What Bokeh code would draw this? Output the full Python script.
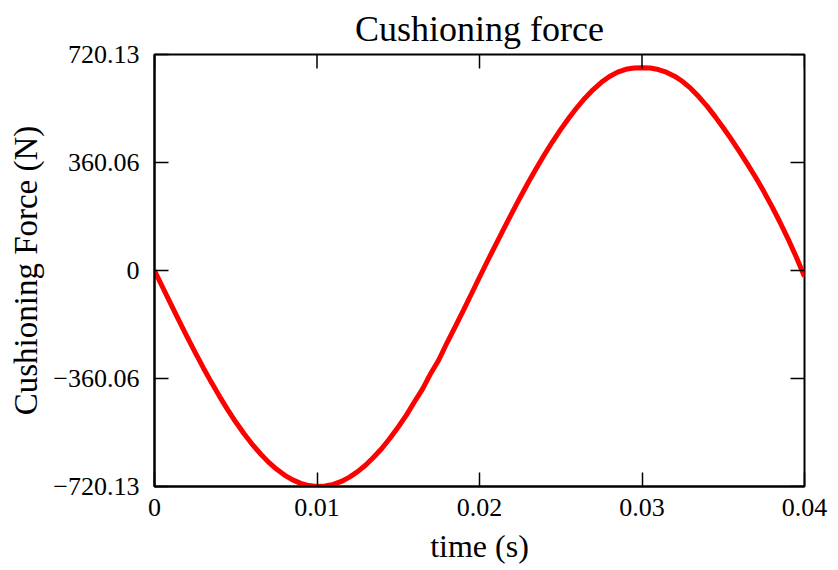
from bokeh.plotting import figure
from bokeh.models import Range1d, FixedTicker, ColumnDataSource
from bokeh.embed import file_html
from bokeh.resources import INLINE

# Cushioning force over one cycle, sampled every half millisecond
time_s = [0.0000, 0.0005, 0.0010, 0.0015, 0.0020, 0.0025, 0.0030, 0.0035, 0.0040, 0.0045,
          0.0050, 0.0055, 0.0060, 0.0065, 0.0070, 0.0075, 0.0080, 0.0085, 0.0090, 0.0095,
          0.0100, 0.0105, 0.0110, 0.0115, 0.0120, 0.0125, 0.0130, 0.0135, 0.0140, 0.0145,
          0.0150, 0.0155, 0.0160, 0.0165, 0.0170, 0.0175, 0.0180, 0.0185, 0.0190, 0.0195,
          0.0200, 0.0205, 0.0210, 0.0215, 0.0220, 0.0225, 0.0230, 0.0235, 0.0240, 0.0245,
          0.0250, 0.0255, 0.0260, 0.0265, 0.0270, 0.0275, 0.0280, 0.0285, 0.0290, 0.0295,
          0.0300, 0.0305, 0.0310, 0.0315, 0.0320, 0.0325, 0.0330, 0.0335, 0.0340, 0.0345,
          0.0350, 0.0355, 0.0360, 0.0365, 0.0370, 0.0375, 0.0380, 0.0385, 0.0390, 0.0395,
          0.0400]
force_n = [0.0, -55.9, -111.5, -166.5, -220.4, -273.0, -324.0, -372.9, -419.5, -463.9,
           -505.3, -543.4, -578.6, -610.0, -638.0, -661.9, -682.2, -698.0, -709.7, -717.1,
           -720.13, -718.7, -713.1, -703.2, -688.9, -670.5, -648.4, -621.7, -592.4, -558.5,
           -521.7, -482.1, -437.6, -394.4, -343.2, -297.7, -241.0, -188.2, -133.5, -78.3,
           -22.5, 32.5, 86.4, 139.8, 192.3, 243.6, 293.3, 341.1, 386.7, 430.0,
           470.4, 508.4, 543.4, 575.4, 603.4, 627.4, 646.9, 661.4, 670.9, 675.4,
           676.0, 675.0, 670.0, 661.0, 648.0, 630.0, 607.0, 579.0, 548.0, 513.0,
           476.0, 437.0, 396.0, 354.0, 310.0, 263.0, 213.0, 160.0, 104.0, 44.0,
           -20.0]

x_ticks = [0, 0.01, 0.02, 0.03, 0.04]
x_tick_labels = ["0", "0.01", "0.02", "0.03", "0.04"]
y_ticks = [-720.13, -360.06, 0, 360.06, 720.13]
y_tick_labels = ["\u2212720.13", "\u2212360.06", "0", "360.06", "720.13"]

SERIF = "Liberation Serif"
W, H = 838, 570
BORDER_L, BORDER_R, BORDER_T, BORDER_B = 154, 34, 54, 84
TICK_PX = 14

src = ColumnDataSource(data=dict(t=time_s, f=force_n))

p = figure(width=W, height=H, output_backend="svg", toolbar_location=None,
           x_range=Range1d(x_ticks[0], x_ticks[-1]),
           y_range=Range1d(y_ticks[0], y_ticks[-1]),
           min_border_left=BORDER_L, min_border_right=BORDER_R,
           min_border_top=BORDER_T, min_border_bottom=BORDER_B,
           title="Cushioning force")

p.title.align = "center"
p.title.vertical_align = "middle"
p.title.text_font = SERIF
p.title.text_font_style = "normal"
p.title.text_font_size = "36px"
p.title.text_color = "black"

p.grid.visible = False
p.outline_line_color = "black"
p.outline_line_width = 2
p.background_fill_color = "white"
p.border_fill_color = "white"

p.line("t", "f", source=src, line_color="#ff0000", line_width=5)

# inward ticks mirrored on the top and right edges of the frame
frame_w = W - BORDER_L - BORDER_R
frame_h = H - BORDER_T - BORDER_B
dx = TICK_PX * (x_ticks[-1] - x_ticks[0]) / frame_w
dy = TICK_PX * (y_ticks[-1] - y_ticks[0]) / frame_h
top = ColumnDataSource(data=dict(x=x_ticks, y0=[y_ticks[-1]] * len(x_ticks),
                                 y1=[y_ticks[-1] - dy] * len(x_ticks)))
right = ColumnDataSource(data=dict(y=y_ticks, x0=[x_ticks[-1]] * len(y_ticks),
                                   x1=[x_ticks[-1] - dx] * len(y_ticks)))
p.segment(x0="x", y0="y0", x1="x", y1="y1", source=top,
          line_color="black", line_width=1.5)
p.segment(x0="x0", y0="y", x1="x1", y1="y", source=right,
          line_color="black", line_width=1.5)

xa = p.xaxis[0]
ya = p.yaxis[0]
xa.ticker = FixedTicker(ticks=x_ticks)
xa.major_label_overrides = dict(zip(x_ticks, x_tick_labels))
ya.ticker = FixedTicker(ticks=y_ticks)
ya.major_label_overrides = dict(zip(y_ticks, y_tick_labels))

for ax in (xa, ya):
    ax.axis_line_color = "black"
    ax.axis_line_width = 2
    ax.major_tick_line_color = "black"
    ax.major_tick_line_width = 1.5
    ax.major_tick_in = TICK_PX
    ax.major_tick_out = 0
    ax.minor_tick_line_color = None
    ax.major_label_text_font = SERIF
    ax.major_label_text_font_size = "26px"
    ax.major_label_text_color = "black"
    ax.axis_label_text_font = SERIF
    ax.axis_label_text_font_style = "normal"
    ax.axis_label_text_color = "black"

xa.axis_label = "time (s)"
xa.axis_label_text_font_size = "32px"
xa.major_label_standoff = 12
xa.axis_label_standoff = 9
ya.axis_label = "Cushioning Force (N)"
ya.axis_label_text_font_size = "33px"
ya.major_label_standoff = 15
ya.axis_label_standoff = 6

open("out.html", "w").write(file_html(p, INLINE))
